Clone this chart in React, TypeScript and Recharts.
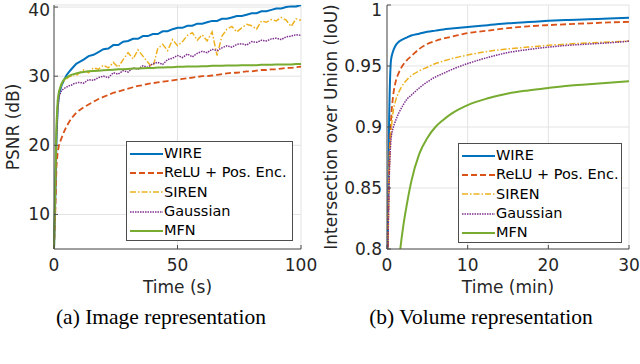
import React from 'react'
import {
  LineChart, Line, XAxis, YAxis, CartesianGrid, Legend, Label
} from 'recharts'

// (a) image representation: time in seconds
const imageTime = [0, 0.5, 1, 1.5, 2, 3, 4, 5, 6, 7, 8, 9, 10, 12, 14, 16, 18, 20, 22, 24, 26, 28, 30, 32, 34, 36, 38, 40, 42, 44, 46, 48, 50, 52, 54, 56, 58, 60, 62, 64, 66, 68, 70, 72, 74, 76, 78, 80, 82, 84, 86, 88, 90, 92, 94, 96, 98, 100]
const imageWire = [5, 12, 21, 25.5, 27.3, 28.6, 29.4, 30.1, 30.6, 31.0, 31.4, 31.8, 32.0, 32.4, 32.9, 33.1, 33.5, 33.9, 34.0, 34.5, 34.5, 35.0, 35.1, 35.4, 35.4, 35.8, 35.8, 36.1, 36.1, 36.5, 36.5, 36.8, 37.0, 37.0, 37.3, 37.3, 37.6, 37.6, 37.8, 38.0, 38.0, 38.3, 38.3, 38.5, 38.7, 38.7, 38.9, 39.1, 39.1, 39.4, 39.4, 39.6, 39.8, 39.8, 40.0, 40.1, 40.1, 40.3]
const imageRelu = [5, 10, 17, 19, 20.0, 21.0, 21.9, 22.7, 23.3, 23.9, 24.3, 24.7, 25.0, 25.5, 25.9, 26.3, 26.7, 27.0, 27.3, 27.6, 27.8, 28.0, 28.2, 28.4, 28.6, 28.7, 28.9, 29.0, 29.1, 29.2, 29.3, 29.4, 29.5, 29.6, 29.7, 29.8, 29.9, 30.0, 30.0, 30.1, 30.2, 30.3, 30.4, 30.5, 30.5, 30.6, 30.7, 30.7, 30.8, 30.9, 30.9, 31.0, 31.0, 31.1, 31.2, 31.2, 31.3, 31.4]
const imageSiren = [5, 13, 22, 26, 27.8, 28.8, 29.3, 29.6, 29.9, 30.0, 30.2, 30.1, 30.4, 30.9, 30.5, 31.2, 31.0, 31.6, 31.2, 32.0, 31.3, 32.4, 33.4, 32.5, 33.8, 32.9, 32.0, 31.2, 34.0, 34.6, 33.7, 35.3, 34.4, 35.0, 35.9, 36.3, 35.2, 36.0, 35.1, 36.4, 33.0, 35.8, 36.8, 37.2, 36.4, 37.0, 37.5, 37.3, 36.8, 38.0, 37.8, 38.2, 38.0, 38.5, 38.1, 37.2, 38.3, 38.1]
const imageGauss = [5, 12, 21, 25, 27.0, 27.9, 28.2, 28.4, 28.6, 28.7, 28.9, 29.0, 29.1, 29.0, 29.5, 29.4, 29.8, 30.0, 29.8, 30.5, 30.3, 30.8, 30.6, 31.2, 31.0, 31.5, 31.3, 31.8, 32.0, 31.7, 32.4, 32.6, 33.0, 32.7, 33.2, 32.8, 33.3, 33.6, 33.4, 33.9, 33.7, 34.1, 34.4, 34.2, 34.6, 34.7, 34.5, 35.0, 34.9, 35.2, 35.1, 35.4, 35.5, 35.3, 35.7, 35.8, 36.0, 35.9]
const imageMfn = [5, 14, 23, 26.5, 27.8, 28.9, 29.5, 29.8, 30.0, 30.2, 30.3, 30.4, 30.5, 30.6, 30.7, 30.75, 30.8, 30.85, 30.9, 30.95, 31.0, 31.0, 31.05, 31.1, 31.1, 31.15, 31.2, 31.2, 31.25, 31.25, 31.3, 31.3, 31.35, 31.35, 31.4, 31.4, 31.4, 31.45, 31.45, 31.5, 31.5, 31.5, 31.55, 31.55, 31.55, 31.6, 31.6, 31.6, 31.6, 31.65, 31.65, 31.65, 31.7, 31.7, 31.7, 31.7, 31.75, 31.75]

// (b) volume representation: time in minutes
const volumeTime = [0, 0.25, 0.5, 0.75, 1, 1.5, 2, 2.5, 3, 4, 5, 6, 7, 8, 10, 12.5, 15, 17.5, 20, 22.5, 25, 27.5, 30]
const volumeWire = [0.75, 0.9, 0.955, 0.962, 0.966, 0.97, 0.972, 0.9735, 0.975, 0.9765, 0.978, 0.979, 0.98, 0.9807, 0.982, 0.9835, 0.985, 0.986, 0.987, 0.9877, 0.9883, 0.989, 0.9895]
const volumeRelu = [0.75, 0.86, 0.905, 0.925, 0.935, 0.945, 0.951, 0.955, 0.958, 0.964, 0.968, 0.9705, 0.9725, 0.974, 0.977, 0.979, 0.981, 0.9825, 0.9835, 0.9843, 0.985, 0.9857, 0.9862]
const volumeSiren = [0.75, 0.86, 0.895, 0.912, 0.92, 0.929, 0.935, 0.939, 0.942, 0.946, 0.949, 0.952, 0.954, 0.956, 0.959, 0.962, 0.964, 0.9655, 0.967, 0.968, 0.969, 0.9697, 0.9705]
const volumeGauss = [0.75, 0.85, 0.89, 0.899, 0.904, 0.912, 0.918, 0.923, 0.926, 0.932, 0.937, 0.941, 0.944, 0.947, 0.952, 0.957, 0.961, 0.9635, 0.9655, 0.967, 0.968, 0.969, 0.9703]
const volumeMfn = [0.55, 0.6, 0.65, 0.7, 0.74, 0.79, 0.818, 0.838, 0.855, 0.878, 0.891, 0.9, 0.906, 0.911, 0.918, 0.9235, 0.9275, 0.93, 0.932, 0.9338, 0.935, 0.9362, 0.9375]

const imageXTicks = [0, 50, 100]
const imageYTicks = [10, 20, 30, 40]
const volumeXTicks = [0, 10, 20, 30]
const volumeYTicks = [0.8, 0.85, 0.9, 0.95, 1]

const seriesNames = ['WIRE', 'ReLU + Pos. Enc.', 'SIREN', 'Gaussian', 'MFN']

const SERIES = [
  { key: 'wire', color: '#0072BD', dash: undefined, width: 2 },
  { key: 'relu', color: '#D95319', dash: '6 3', width: 1.8 },
  { key: 'siren', color: '#EDB120', dash: '6 2 1.5 2', width: 1.5 },
  { key: 'gauss', color: '#7E2F8E', dash: '1.5 1', width: 1.5 },
  { key: 'mfn', color: '#77AC30', dash: undefined, width: 2 },
]

const imageRows = imageTime.map((t, i) => ({
  t, wire: imageWire[i], relu: imageRelu[i], siren: imageSiren[i], gauss: imageGauss[i], mfn: imageMfn[i]
}))
const volumeRows = volumeTime.map((t, i) => ({
  t, wire: volumeWire[i], relu: volumeRelu[i], siren: volumeSiren[i], gauss: volumeGauss[i], mfn: volumeMfn[i]
}))

const FONT = 'DejaVu Sans'
const TEXT = '#262626'
const FRAME = '#4d4d4d'
const tickStyle = { fontSize: 17, fill: TEXT, fontFamily: FONT }
const titleStyle = { fontSize: 17, fill: TEXT, fontFamily: FONT }

function LegendBox() {
  return (
    <div style={{
      width: '100%', height: '100%', boxSizing: 'border-box', border: `1px solid ${FRAME}`,
      background: '#fff', paddingTop: 2, paddingLeft: 3, fontFamily: FONT, fontSize: 14.5, color: '#000'
    }}>
      {SERIES.map((s, i) => (
        <div key={s.key} style={{ height: 19.3, display: 'flex', alignItems: 'center' }}>
          <svg width={33} height={10} style={{ marginRight: 1 }}>
            <line x1={0} x2={33} y1={5} y2={5} stroke={s.color} strokeWidth={s.width} strokeDasharray={s.dash} />
          </svg>
          <span style={{ lineHeight: '15px', whiteSpace: 'nowrap' }}>{seriesNames[i]}</span>
        </div>
      ))}
    </div>
  )
}

function seriesLines(curve: 'linear' | 'monotone') {
  return SERIES.map((s, i) => (
    <Line key={s.key} type={curve} dataKey={s.key} name={seriesNames[i]} stroke={s.color}
      strokeWidth={s.width} strokeDasharray={s.dash} dot={false} isAnimationActive={false} />
  ))
}

export default function App() {
  return (
    <div style={{ position: 'absolute', left: 0, top: 0, width: 640, height: 364, background: '#fff', overflow: 'hidden' }}>
      <div style={{ position: 'absolute', left: 0, top: 0 }}>
        <LineChart width={320} height={300} data={imageRows} margin={{ top: 5, right: 19, bottom: 1, left: 0 }}>
          <CartesianGrid stroke="#e3e3e3" strokeWidth={1} />
          <XAxis dataKey="t" type="number" domain={[0, 100]} ticks={imageXTicks} height={50}
            stroke={FRAME} tickSize={-4} tickMargin={14} tick={tickStyle}>
            <Label value="Time (s)" position="insideBottom" offset={6} style={titleStyle} />
          </XAxis>
          <XAxis xAxisId="top" orientation="top" dataKey="t" type="number" domain={[0, 100]} ticks={imageXTicks}
            height={0} stroke={FRAME} tickSize={-4} tick={false} />
          <YAxis type="number" domain={[5, 40.3]} allowDataOverflow ticks={imageYTicks} width={54}
            stroke={FRAME} tickSize={-4} tickMargin={8} tick={tickStyle}>
            <Label value="PSNR (dB)" angle={-90} position="insideLeft" offset={13}
              style={{ ...titleStyle, textAnchor: 'middle' }} />
          </YAxis>
          <YAxis yAxisId="right" orientation="right" type="number" domain={[5, 40.3]} allowDataOverflow
            ticks={imageYTicks} width={0} stroke={FRAME} tickSize={-4} tick={false} />
          {seriesLines('linear')}
          <Legend layout="horizontal" verticalAlign="middle" align="center" content={() => <LegendBox />}
            wrapperStyle={{ position: 'absolute', left: 126, top: 141, width: 167, height: 100 }} />
        </LineChart>
      </div>

      <div style={{ position: 'absolute', left: 320, top: 0 }}>
        <LineChart width={320} height={300} data={volumeRows} margin={{ top: 5, right: 11, bottom: 1, left: 0 }}>
          <CartesianGrid stroke="#e3e3e3" strokeWidth={1} />
          <XAxis dataKey="t" type="number" domain={[0, 30]} ticks={volumeXTicks} height={50}
            stroke={FRAME} tickSize={-4} tickMargin={14} tick={tickStyle}>
            <Label value="Time (min)" position="insideBottom" offset={6} style={titleStyle} />
          </XAxis>
          <XAxis xAxisId="top" orientation="top" dataKey="t" type="number" domain={[0, 30]} ticks={volumeXTicks}
            height={0} stroke={FRAME} tickSize={-4} tick={false} />
          <YAxis type="number" domain={[0.8, 1]} allowDataOverflow ticks={volumeYTicks} width={67}
            stroke={FRAME} tickSize={-4} tickMargin={9} tick={tickStyle} tickFormatter={v => String(v)}>
            <Label value="Intersection over Union (IoU)" angle={-90} position="insideLeft" offset={11}
              style={{ ...titleStyle, textAnchor: 'middle' }} />
          </YAxis>
          <YAxis yAxisId="right" orientation="right" type="number" domain={[0.8, 1]} allowDataOverflow
            ticks={volumeYTicks} width={0} stroke={FRAME} tickSize={-4} tick={false} />
          {seriesLines('monotone')}
          <Legend layout="horizontal" verticalAlign="middle" align="center" content={() => <LegendBox />}
            wrapperStyle={{ position: 'absolute', left: 138, top: 143, width: 164, height: 100 }} />
        </LineChart>
      </div>

      <svg width={640} height={364} style={{ position: 'absolute', left: 0, top: 0, pointerEvents: 'none' }}>
        <text x={161} y={324} textAnchor="middle" fontFamily="Liberation Serif" fontSize={21.5} fill="#000">
          (a) Image representation
        </text>
        <text x={481} y={324} textAnchor="middle" fontFamily="Liberation Serif" fontSize={21.5} fill="#000">
          (b) Volume representation
        </text>
      </svg>
    </div>
  )
}
